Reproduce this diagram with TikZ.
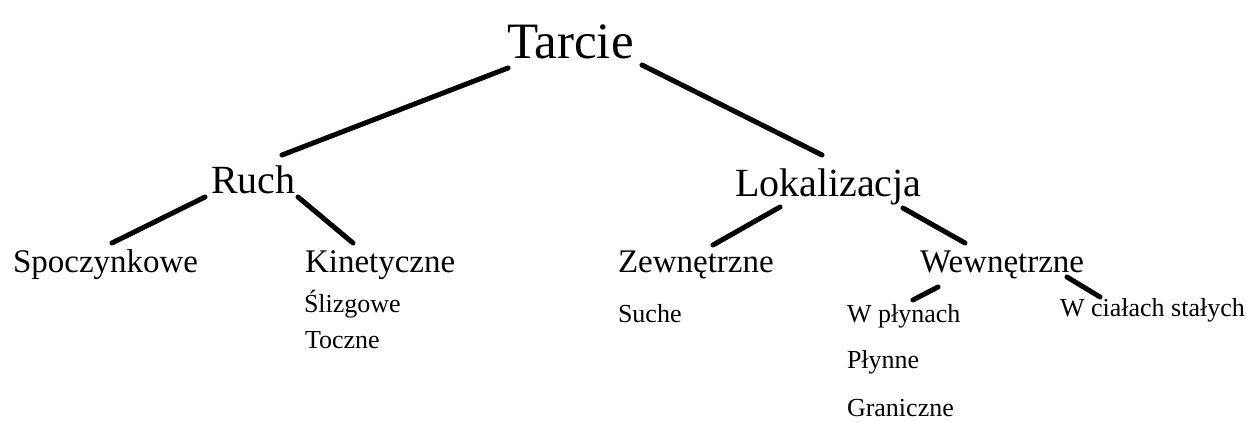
\documentclass[tikz,border=0pt]{standalone}
\usepackage{fontspec}
\setmainfont{Liberation Serif}
\usepackage{tikz}
\tikzset{
  treenode/.style = {anchor=base west, inner sep=0pt, outer sep=0pt},
  1/.style = {treenode, font=\fontsize{51}{51}\selectfont},% korzen
  2/.style = {treenode, font=\fontsize{40}{40}\selectfont},% poziom 1
  3/.style = {treenode, font=\fontsize{33}{33}\selectfont},% poziom 2
  4/.style = {treenode, font=\fontsize{26}{26}\selectfont},% liscie
  branch/.style = {line width=5pt, line cap=round}
}
\begin{document}
\begin{tikzpicture}[x=1pt,y=-1pt]
\useasboundingbox (0,0) rectangle (1255,421);
\node [1] (tarcie) at (507,58) {Tarcie};
\node [2] (ruch) at (211,193) {Ruch};
\node [2] (lok) at (735,196) {Lokalizacja};
\node [3] (spocz) at (13,272) {Spoczynkowe};
\node [3] (kin) at (305,272) {Kinetyczne};
\node [3] (zew) at (618,272) {Zewnętrzne};
\node [3] (wew) at (920,272) {Wewnętrzne};
\node [4] (slizg) at (304,312) {Ślizgowe};
\node [4] (tocz) at (305,348) {Toczne};
\node [4] (suche) at (618,322) {Suche};
\node [4] (plyn) at (847,322) {W płynach};
\node [4] (plynne) at (847,368) {Płynne};
\node [4] (gran) at (847,416) {Graniczne};
\node [4] (cial) at (1060,316) {W ciałach stałych};

% galezie
\draw [branch] ([shift={(1,10)}]tarcie.base west) -- ([shift={(71,-38)}]ruch.base west);
\draw [branch] ([shift={(135,7)}]tarcie.base west) -- ([shift={(87,-41)}]lok.base west);
\draw [branch] ([shift={(-6,4)}]ruch.base west) -- ([shift={(99,-29)}]spocz.base west);
\draw [branch] ([shift={(87,4)}]ruch.base west) -- ([shift={(48,-29)}]kin.base west);
\draw [branch] ([shift={(45,11)}]lok.base west) -- ([shift={(95,-27)}]zew.base west);
\draw [branch] ([shift={(168,12)}]lok.base west) -- ([shift={(45,-29)}]wew.base west);
\draw [branch] ([shift={(18,15)}]wew.base west) -- ([shift={(66,-22)}]plyn.base west);
\draw [branch] ([shift={(147,5)}]wew.base west) -- ([shift={(40,-19)}]cial.base west);
\end{tikzpicture}
\end{document}
